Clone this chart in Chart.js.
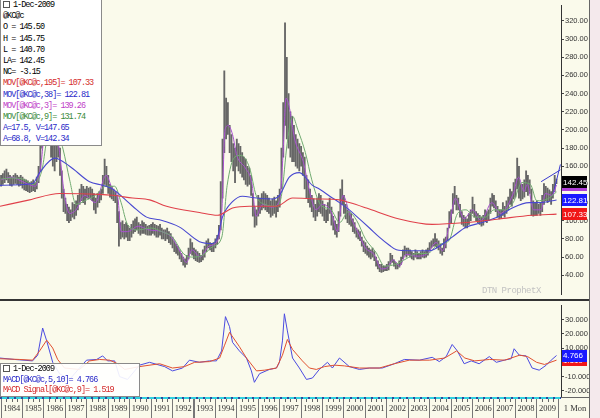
<!DOCTYPE html>
<html>
<head>
<meta charset="utf-8">
<script src="https://cdn.jsdelivr.net/npm/chart.js@4.4.1/dist/chart.umd.min.js"></script>
<style>
html, body { margin: 0; padding: 0; width: 600px; height: 418px; overflow: hidden; background: #fafaeb; position: relative; }
canvas { position: absolute; left: 0; }
#main { top: 0; }
#macd { top: 300px; }
.box { position: absolute; left: 0; background: #fff; border: 1px solid #8a8a8a; box-sizing: border-box;
       font: 8.5px "Liberation Mono", monospace; letter-spacing: -1px; white-space: nowrap; padding-left: 2px; }
.box div { height: 11.2px; line-height: 11.2px; }
#legend2 div { height: 10.5px; line-height: 10.5px; }
.ico { display: inline-block; width: 5px; height: 5px; border: 1px solid #555; margin-right: 3px; vertical-align: -1px; }
.red { color: #d42a2a; } .blue { color: #2a2ac8; } .purple { color: #c040c8; } .green { color: #3a8a3a; }
#wm { position: absolute; left: 482px; top: 286px; font: 9px "Liberation Mono", monospace; color: #c2c2c2; letter-spacing: -0.5px; }
#sep { position: absolute; left: 0; top: 299px; width: 589px; height: 2px; background: #333; }
#frame { position: absolute; left: 589px; top: 0; width: 11px; height: 418px; background: #f4e9ec; border-left: 1px solid #666; box-sizing: border-box; }
#mon { position: absolute; left: 561px; top: 397px; width: 28px; height: 21px; border-top: 1px solid #666; box-sizing: border-box;
       font: 8.5px "Liberation Serif", serif; color: #333; text-align: center; line-height: 21px; }
</style>
</head>
<body>
<canvas id="main" width="600" height="300"></canvas>
<canvas id="macd" width="600" height="118"></canvas>
<div id="sep"></div>
<div id="frame"></div>
<div id="mon">1 Mon</div>
<div id="wm">DTN ProphetX</div>
<div class="box" id="legend1" style="top:-1px;width:102px;height:147px;">
  <div><span class="ico"></span>1-Dec-2009</div>
  <div>@KC@c</div>
  <div>O = 145.50</div>
  <div>H = 145.75</div>
  <div>L = 140.70</div>
  <div>LA= 142.45</div>
  <div>NC= -3.15</div>
  <div class="red">MOV[@KC@c,195]= 107.33</div>
  <div class="blue">MOV[@KC@c,38]= 122.81</div>
  <div class="purple">MOV[@KC@c,3]= 139.26</div>
  <div class="green">MOV[@KC@c,9]= 131.74</div>
  <div class="blue">A=17.5, V=147.65</div>
  <div class="blue">A=68.8, V=142.34</div>
</div>
<div class="box" id="legend2" style="top:363px;width:140px;height:34px;background:rgba(255,255,255,0.9);">
  <div><span class="ico"></span>1-Dec-2009</div>
  <div class="blue">MACD[@KC@c,5,10]= 4.766</div>
  <div class="red">MACD Signal[@KC@c,9]= 1.519</div>
</div>
<script>
// monthly bars, Jan 1984 .. Dec 2009
var firstYear = 1984;
var highs = [
    150,152,155,157,153,150,148,150,152,150,148,150,   // 1984
    148,146,145,144,142,143,145,142,148,160,185,210,   // 1985
    260,255,240,215,200,190,185,195,200,180,155,135,   // 1986
    125,118,115,112,120,118,122,128,135,140,138,135,   // 1987
    138,136,137,135,130,125,130,132,135,150,168,160,   // 1988
    150,140,138,135,132,128,110,98,100,96,98,95,       // 1989
    92,96,100,102,104,98,96,100,98,96,94,95,           // 1990
    96,98,96,95,94,96,92,90,90,92,88,86,               // 1991
    82,78,74,72,68,64,60,58,62,70,80,76,               // 1992
    70,68,66,64,62,68,72,78,80,76,74,76,               // 1993
    80,84,95,143,190,265,235,230,205,195,185,180,      // 1994
    190,185,182,175,170,168,160,158,150,130,115,112,   // 1995
    128,125,130,132,130,128,125,122,124,126,122,128,   // 1996
    135,180,230,318,280,240,220,215,205,195,190,185,   // 1997
    182,175,170,150,145,135,128,124,118,125,130,128,   // 1998
    122,118,112,120,125,115,105,100,96,110,135,145,    // 1999
    128,118,112,110,108,102,98,92,90,88,82,78,         // 2000
    76,72,70,68,70,66,60,56,52,52,50,50,               // 2001
    52,55,64,62,57,54,52,56,60,68,72,70,               // 2002
    70,68,66,64,68,66,64,66,68,66,68,70,               // 2003
    76,78,80,86,80,78,74,70,80,82,92,110,              // 2004
    112,130,138,128,125,118,110,106,104,102,108,112,   // 2005
    126,118,110,108,106,104,106,112,110,112,125,130,   // 2006
    128,122,116,112,112,120,116,122,126,135,132,142,   // 2007
    146,169,160,140,140,145,155,150,145,135,122,120,   // 2008
    122,118,120,128,141,138,136,134,132,140,150,145.75 // 2009
];
var lows = [
    138,140,142,145,142,139,138,140,141,140,138,139,
    136,134,133,132,131,132,133,132,135,142,155,180,
    200,215,200,185,170,160,155,165,170,150,125,110,
    108,100,98,100,104,102,106,112,118,122,120,118,
    125,124,125,122,112,108,115,120,123,130,140,138,
    130,126,124,122,120,98,72,80,82,80,82,78,
    78,82,86,88,90,86,84,86,86,85,84,84,
    84,86,84,82,82,84,80,80,78,80,76,74,
    70,66,64,62,58,55,51,49,52,58,64,62,
    58,56,55,54,55,57,60,66,70,68,66,66,
    70,74,80,90,125,175,190,195,175,165,155,142,
    160,155,152,148,145,140,138,140,128,105,93,95,
    105,108,112,114,112,110,108,104,106,108,104,110,
    115,135,170,205,190,180,170,165,165,160,158,155,
    160,150,135,125,120,115,110,104,100,105,110,108,
    105,100,98,100,108,95,90,85,82,88,105,118,
    108,102,98,96,94,88,86,82,80,78,72,66,
    64,62,60,58,60,56,50,47,44,43,44,45,
    45,46,52,54,50,47,47,49,52,58,62,60,
    62,60,58,57,60,58,58,58,60,59,60,62,
    68,70,72,72,70,68,64,62,66,70,78,92,
    98,108,118,112,112,104,96,94,92,92,96,100,
    108,104,100,98,96,94,95,100,98,100,108,116,
    114,110,104,102,103,106,104,108,112,118,116,124,
    126,135,125,122,124,126,132,128,130,106,105,106,
    106,108,106,110,118,122,120,122,118,125,132,140.7
];

// moving averages, [year, value]
var mov195 = [[1983.95,116],[1985.33,123],[1986.73,130],[1988.6,129],[1989.2,128],[1990.14,125],[1990.93,123],
    [1991.72,116],[1993.26,109],[1994.1,106],[1994.8,114],[1995.59,116],[1996.85,116],[1997.6,125],[1998.71,124],
    [1999.79,123],[2000.25,120],[2001.05,114],[2002.58,102],[2004.12,96],[2005.71,98],[2007.24,102],[2008.78,106],[2009.92,107.33]];
var mov38 = [[1983.95,139],[1985.47,141],[1985.8,153],[1986.5,169],[1987.2,160],[1988.13,143],[1988.74,139],[1989.2,135],
    [1990.14,116],[1990.79,104],[1991.4,101],[1992.33,93],[1993.26,77],[1993.87,75],[1994.1,82],[1994.33,104],[1994.8,121],
    [1995.26,127],[1995.92,125],[1996.66,124],[1996.99,128],[1997.45,148],[1997.92,153],[1998.53,139],[1998.85,135],
    [1999.46,125],[1999.79,120],[2000.25,112],[2000.72,102],[2001.19,92],[2001.65,82],[2002.12,73],[2002.45,68],
    [2003.05,67],[2003.98,67],[2004.45,72],[2005.05,82],[2005.71,93],[2006.45,98],[2007.24,105],[2007.85,114],
    [2008.64,120],[2009.11,120],[2009.92,122.81]];
var mov3 = [[1984.0,145],[1984.5,148],[1985.0,143],[1985.6,138],[1985.9,170],[1986.1,225],[1986.4,205],[1986.7,180],
    [1986.95,130],[1987.2,108],[1987.5,112],[1987.9,128],[1988.4,120],[1988.9,150],[1989.2,135],[1989.45,125],[1989.6,88],
    [1989.9,88],[1990.4,94],[1990.9,90],[1991.5,88],[1991.95,82],[1992.4,64],[1992.65,54],[1992.9,68],[1993.3,60],
    [1993.7,72],[1994.1,78],[1994.3,110],[1994.45,200],[1994.6,205],[1994.8,195],[1995.0,172],[1995.4,158],[1995.7,142],
    [1995.9,105],[1996.2,118],[1996.6,115],[1997.0,122],[1997.15,170],[1997.3,235],[1997.45,225],[1997.7,190],
    [1998.1,165],[1998.4,132],[1998.7,112],[1999.0,118],[1999.4,110],[1999.7,88],[1999.95,128],[2000.3,105],[2000.7,85],
    [2001.0,70],[2001.4,63],[2001.75,47],[2002.0,48],[2002.3,57],[2002.6,50],[2002.9,63],[2003.4,61],[2003.9,64],
    [2004.3,76],[2004.6,67],[2004.95,100],[2005.2,125],[2005.6,102],[2006.0,112],[2006.4,100],[2006.9,120],[2007.3,108],
    [2007.9,130],[2008.15,148],[2008.4,132],[2008.55,140],[2008.85,112],[2009.2,112],[2009.4,130],[2009.7,128],[2009.92,139.26]];
var mov9 = [[1984.0,146],[1984.5,147],[1985.0,146],[1985.5,140],[1985.9,155],[1986.2,195],[1986.6,200],[1986.9,178],
    [1987.2,145],[1987.5,118],[1987.9,122],[1988.4,128],[1988.9,138],[1989.3,138],[1989.6,120],[1989.9,96],[1990.4,90],
    [1991.0,92],[1991.5,88],[1992.0,82],[1992.5,64],[1992.9,60],[1993.4,62],[1993.9,72],[1994.3,82],[1994.55,139],
    [1994.9,170],[1995.2,172],[1995.6,158],[1995.9,128],[1996.3,118],[1996.9,116],[1997.1,130],[1997.35,185],[1997.6,215],
    [1997.85,200],[1998.2,175],[1998.5,145],[1998.9,118],[1999.4,112],[1999.8,98],[2000.2,110],[2000.6,100],[2001.0,80],
    [2001.5,65],[2001.9,50],[2002.4,52],[2002.9,58],[2003.4,64],[2003.9,64],[2004.4,74],[2004.9,78],[2005.3,108],
    [2005.7,112],[2006.1,104],[2006.6,104],[2007.0,112],[2007.5,112],[2007.9,120],[2008.3,142],[2008.7,140],
    [2009.0,122],[2009.5,124],[2009.92,131.74]];
var trendA = [[2009.2,143],[2010.1,156]];
var trendB = [[2009.75,128],[2010.1,162]];

var macdLine = [[1983.94,3],[1984.63,2],[1985.47,1],[1985.71,5],[1985.94,24],[1986.13,15],[1986.41,0],[1986.73,-8],
    [1987.2,-12],[1987.66,-4],[1987.99,1.5],[1988.46,2],[1988.74,4.5],[1988.97,1],[1989.3,1],[1989.53,-10],[1989.9,-12],
    [1990.46,-2],[1990.93,0],[1991.63,-3],[1992.0,-6],[1992.47,-4],[1992.79,1.5],[1993.26,0],[1993.73,1],[1994.05,1],
    [1994.29,8],[1994.47,32],[1994.66,25],[1994.8,14],[1995.12,8],[1995.45,3],[1995.68,-6],[1995.82,-14],[1996.06,-8],
    [1996.52,-5],[1996.85,-4],[1996.99,0],[1997.13,15],[1997.22,34],[1997.36,22],[1997.6,3],[1997.92,-4],[1998.25,-12],
    [1998.53,-11],[1998.85,-5],[1999.23,0],[1999.46,-4],[1999.79,3],[2000.25,-3],[2000.72,-5],[2001.19,-4],[2001.79,-4],
    [2002.35,-1],[2002.82,2],[2003.52,1.5],[2004.12,3.5],[2004.45,0.5],[2004.77,4],[2005.05,12.5],[2005.29,8],
    [2005.61,-1],[2005.94,1],[2006.31,-1],[2006.78,4],[2007.11,0],[2007.48,1.5],[2007.8,2.5],[2007.94,9.5],[2008.18,5],
    [2008.5,4.5],[2008.78,-4],[2009.11,-5.5],[2009.44,-2],[2009.67,1.5],[2009.92,4.766]];
var macdSignal = [[1983.94,2.5],[1984.87,2],[1985.47,1.5],[1985.8,8],[1986.13,15.5],[1986.41,10],[1986.64,2],[1986.96,-4],
    [1987.66,-5],[1988.13,1],[1988.6,2],[1989.07,1.5],[1989.44,-1],[1989.77,-5],[1990.46,-3],[1991.4,-1],[1992.0,-4],
    [1992.56,-3],[1993.03,0],[1993.73,0.5],[1994.2,3],[1994.43,12],[1994.66,21],[1995.12,11],[1995.45,3],[1995.92,-6],
    [1996.3,-5.5],[1996.85,-4],[1997.13,5],[1997.36,16],[1997.6,9],[1998.06,1],[1998.39,-4],[1998.71,-5],[1999.09,-3],
    [1999.56,-2],[2000.02,-2.5],[2000.72,-4],[2001.65,-4],[2002.35,-1],[2003.05,1.5],[2004.0,1.5],[2004.7,3],[2005.26,8],
    [2005.64,3],[2006.1,1],[2006.8,2],[2007.5,1.5],[2008.2,5],[2008.57,4],[2008.99,0],[2009.36,-1.5],[2009.92,1.519]];

var priceTicks = [40,60,80,100,120,140,160,180,200,220,240,260,280,300,320];
var macdTicks = [30,20,10,0,-10,-20];
var yearTicks = [1984,1985,1986,1987,1988,1989,1990,1991,1992,1993,1994,1995,1996,1997,
                 1998,1999,2000,2001,2002,2003,2004,2005,2006,2007,2008,2009,2010];
var priceTags = [[139.26,'#b040d8',''],[107.33,'#f01818','107.33'],[122.81,'#1a1aff','122.81'],[142.45,'#000','142.45']];
var macdTags = [[1.519,'#f01818','1.519'],[4.766,'#1a1aff','4.766']];

var xMin = 1983.95, xMax = 2010.128;

function pts(arr) { return arr.map(function(p) { return { x: p[0], y: p[1] }; }); }
var bars = highs.map(function(h, i) { return { x: firstYear + i / 12, y: [lows[i], h] }; });

function lineSet(data, color, width, smooth) {
    return { type: 'line', data: pts(data), borderColor: color, borderWidth: width, pointRadius: 0,
             cubicInterpolationMode: smooth ? 'monotone' : 'default', order: 1 };
}

function drawTags(chart, tags) {
    var c = chart.ctx, sc = chart.scales.y, left = chart.chartArea.right + 1;
    c.save();
    c.font = '8px "Liberation Sans", sans-serif';
    c.textBaseline = 'middle';
    tags.forEach(function(t) {
        var py = sc.getPixelForValue(t[0]);
        c.fillStyle = t[1];
        c.fillRect(left, Math.round(py) - 6, 25, 12);
        if (t[2]) { c.fillStyle = '#fff'; c.fillText(t[2], left + 1, py + 0.5); }
    });
    c.restore();
}

var axisFont = { family: 'Liberation Sans', size: 7.5 };

new Chart(document.getElementById('main'), {
    type: 'bar',
    data: {
        datasets: [
            { type: 'bar', data: bars, backgroundColor: '#666', barThickness: 1.2, grouped: false, order: 10 },
            lineSet(mov195, '#e0404a', 1.1, true),
            lineSet(mov38, '#4848d0', 1.1, true),
            lineSet(mov9, '#70aa70', 1, true),
            lineSet(mov3, '#a850d0', 1, true),
            lineSet(trendA, '#3a3ad0', 1, false),
            lineSet(trendB, '#3a3ad0', 1, false)
        ]
    },
    options: {
        animation: false, responsive: false, devicePixelRatio: 1, events: [],
        layout: { padding: 0 },
        plugins: { legend: { display: false }, tooltip: { enabled: false } },
        scales: {
            x: { type: 'linear', min: xMin, max: xMax, offset: false, display: false },
            y: {
                position: 'right', min: 18.8, max: 337,
                afterFit: function(s) { s.width = 39; },
                afterBuildTicks: function(s) { s.ticks = priceTicks.map(function(v) { return { value: v }; }); },
                ticks: { callback: function(v) { return v.toFixed(2); }, color: '#333', font: axisFont, padding: 1 },
                grid: { drawOnChartArea: false, tickLength: 3, color: '#444' },
                border: { color: '#333' }
            }
        }
    },
    plugins: [{ id: 'tags', afterDraw: function(chart) { drawTags(chart, priceTags); } }]
});

new Chart(document.getElementById('macd'), {
    type: 'line',
    data: {
        datasets: [
            lineSet(macdSignal, '#e05030', 1, false),
            lineSet(macdLine, '#4a4ae0', 1, false)
        ]
    },
    options: {
        animation: false, responsive: false, devicePixelRatio: 1, events: [],
        layout: { padding: { top: 2 } },
        plugins: { legend: { display: false }, tooltip: { enabled: false } },
        scales: {
            x: {
                type: 'linear', min: xMin, max: xMax, position: 'bottom',
                afterBuildTicks: function(s) { s.ticks = yearTicks.map(function(v) { return { value: v }; }); },
                afterFit: function(s) { s.height = 21; },
                ticks: {
                    autoSkip: false, maxRotation: 0, labelOffset: 10.7, padding: -14, color: '#333',
                    font: { family: 'Liberation Serif', size: 8.5 },
                    callback: function(v) { return v < 2010 ? String(v) : ''; }
                },
                grid: {
                    drawOnChartArea: false, tickLength: 21, color: '#777',
                    lineWidth: function(ctx) { return ctx.tick && ctx.tick.value === 1993 ? 2 : 1; }
                },
                border: { display: false }
            },
            y: {
                position: 'right', min: -24.3, max: 39.8,
                afterFit: function(s) { s.width = 39; },
                afterBuildTicks: function(s) { s.ticks = macdTicks.map(function(v) { return { value: v }; }); },
                ticks: { callback: function(v) { return v.toFixed(3); }, color: '#333', font: axisFont, padding: 1 },
                grid: { drawOnChartArea: false, tickLength: 3, color: '#444' },
                border: { color: '#333' }
            }
        }
    },
    plugins: [{
        id: 'timebar',
        afterDraw: function(chart) {
            var c = chart.ctx, a = chart.chartArea, xs = chart.scales.x;
            c.save();
            // dotted time bar under the panel
            c.strokeStyle = '#2a4aa0'; c.lineWidth = 2;
            c.beginPath(); c.moveTo(a.left, a.bottom + 1); c.lineTo(a.right, a.bottom + 1); c.stroke();
            c.strokeStyle = '#30d0e0'; c.setLineDash([5, 2]);
            c.beginPath(); c.moveTo(a.left + 2, a.bottom + 1); c.lineTo(a.right, a.bottom + 1); c.stroke();
            c.setLineDash([]);
            // quarter ticks
            c.strokeStyle = '#666'; c.lineWidth = 1;
            for (var i = 0; i < yearTicks.length - 1; i++) {
                for (var q = 1; q < 4; q++) {
                    var px = Math.round(xs.getPixelForValue(yearTicks[i] + q / 4)) + 0.5;
                    c.beginPath(); c.moveTo(px, a.bottom + 2); c.lineTo(px, a.bottom + 5); c.stroke();
                }
            }
            c.restore();
            drawTags(chart, macdTags);
        }
    }]
});
</script>
</body>
</html>
